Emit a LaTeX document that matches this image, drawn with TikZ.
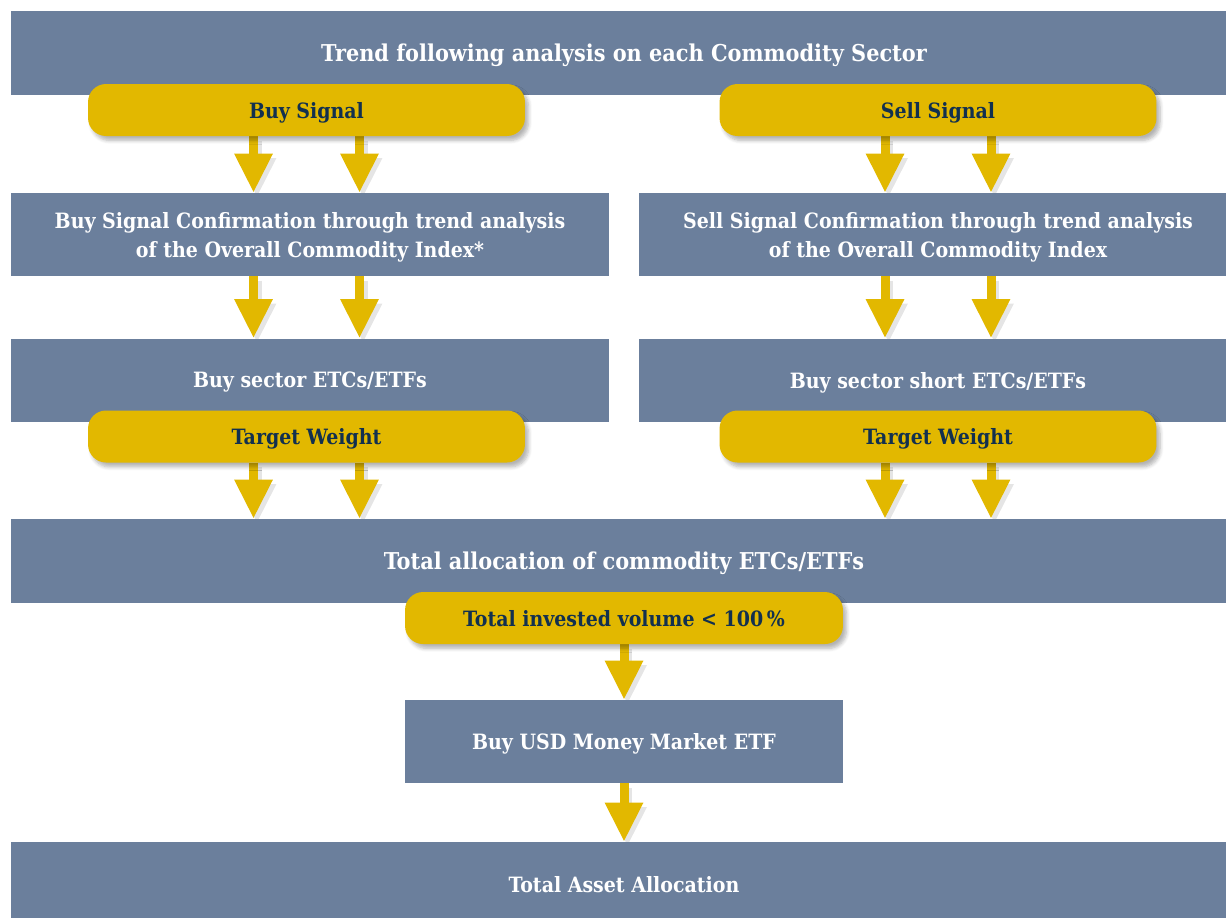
\documentclass[tikz,border=0pt]{standalone}
\usepackage{fontspec}
\setmainfont{DejaVu Serif Condensed}
\usetikzlibrary{arrows.meta,positioning,calc,shadows.blur}

\definecolor{slate}{HTML}{6B7F9C}
\definecolor{gold}{HTML}{E2B800}
\definecolor{navy}{HTML}{12304F}

\pgfdeclarelayer{background}
\pgfsetlayers{background,main}

\begin{document}
\begin{tikzpicture}[
  x=0.02cm, y=-0.02cm,
  font=\bfseries\fontsize{12}{16.5}\selectfont,
  bar/.style={fill=slate, text=white, align=center, inner sep=0pt,
    text depth=0pt, minimum width=11.96cm, minimum height=1.66cm},
  widebar/.style={bar, minimum width=24.52cm, minimum height=1.68cm},
  bigtext/.style={font=\bfseries\fontsize{13.2}{16.5}\selectfont, text depth=-3pt},
  pill/.style={fill=gold, text=navy, align=center, inner sep=0pt, text depth=0pt,
    rounded corners=0.36cm, minimum width=8.74cm, minimum height=1.04cm,
    blur shadow={shadow xshift=2pt, shadow yshift=-2.5pt,
      shadow blur steps=6, shadow opacity=30}},
  fatarrow/.style={draw=gold, line width=0.18cm,
    -{Triangle[width=0.72cm,length=0.78cm]}},
  arrowshadow/.style={draw=black!10, line width=0.18cm,
    -{Triangle[width=0.72cm,length=0.78cm]},
    transform canvas={shift={(2pt,-2.5pt)}}}
]
  \useasboundingbox (0,0) rectangle (1226,917);

  % top
  \node[widebar, bigtext] (trend) at (624,53) {Trend following analysis on each Commodity Sector};
  \node[pill] (buy) at (306.5,110) {Buy Signal};
  \node[pill] (sell) at (938,110) {Sell Signal};

  % confirmation
  \node[bar] (buyconf) at (310,234.5)
    {Buy Signal Confirmation through trend analysis\\of the Overall Commodity Index*};
  \node[bar] (sellconf) at (938,234.5)
    {Sell Signal Confirmation through trend analysis\\of the Overall Commodity Index};

  % sector ETCs
  \node[bar, text depth=-2pt] (buysector) at (310,380) {Buy sector ETCs/ETFs};
  \node[bar, text depth=-2pt] (sellsector) at (938,380) {Buy sector short ETCs/ETFs};
  \node[pill] (buyweight) at (306.5,436.5) {Target Weight};
  \node[pill] (sellweight) at (938,436.5) {Target Weight};

  % totals
  \node[widebar, bigtext, text depth=-5pt] (total) at (624,561) {Total allocation of commodity ETCs/ETFs};
  \node[pill, minimum width=8.76cm] (invested) at (624,618) {Total invested volume < 100\,\%};
  \node[bar, minimum width=8.76cm, text depth=-3pt] (money) at (624,741.5) {Buy USD Money Market ETF};
  \node[widebar] (asset) at (624,884) {Total Asset Allocation};

  % arrows
  \begin{pgfonlayer}{background}
    \foreach \sig/\conf/\sector/\weight in {buy/buyconf/buysector/buyweight,
        sell/sellconf/sellsector/sellweight}{
      \foreach \dx in {-1.06cm,1.06cm}{
        \foreach \st in {arrowshadow,fatarrow}{
          \draw[\st] ([xshift=\dx]\sig.south) -- ([xshift=\dx]\sig.south |- \conf.north);
          \draw[\st] ([xshift=\dx]\sig.south |- \conf.south) -- ([xshift=\dx]\sig.south |- \sector.north);
          \draw[\st] ([xshift=\dx]\weight.south) -- ([xshift=\dx]\weight.south |- total.north);
        }
      }
    }
    \foreach \st in {arrowshadow,fatarrow}{
      \draw[\st] (invested.south) -- (money.north);
      \draw[\st] (money.south) -- (asset.north);
    }
  \end{pgfonlayer}
\end{tikzpicture}
\end{document}
